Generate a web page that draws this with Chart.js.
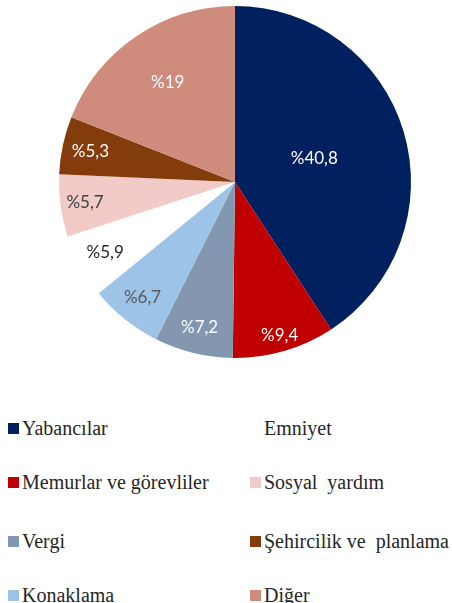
<!DOCTYPE html>
<html>
<head>
<meta charset="utf-8">
<script src="https://cdn.jsdelivr.net/npm/chart.js@4"></script>
<style>
  html, body { margin: 0; padding: 0; background: #fff; }
  #wrap { position: relative; width: 452px; height: 603px; overflow: hidden; }
  #pie { position: absolute; left: 0; top: 0; }
  .leg { position: absolute; display: flex; align-items: center; white-space: pre;
         font-family: "Liberation Serif", serif; font-size: 20px; color: #262626; }
  .leg i { display: inline-block; width: 11px; height: 11px; margin-right: 3px; }
</style>
</head>
<body>
<div id="wrap">
  <canvas id="pie" width="452" height="370"></canvas>
</div>
<script>
// --- Data ---
const categories = ['Yabancılar', 'Memurlar ve görevliler', 'Vergi', 'Konaklama',
                    'Emniyet', 'Sosyal  yardım', 'Şehircilik ve  planlama', 'Diğer'];
const shares = [40.8, 9.4, 7.2, 6.7, 5.9, 5.7, 5.3, 19];
const valueLabels = ['%40,8', '%9,4', '%7,2', '%6,7', '%5,9', '%5,7', '%5,3', '%19'];

// --- Styles ---
const colors = ['#002060', '#C00000', '#8497B0', '#9DC3E6', '#FFFFFF', '#F2CAC7', '#843C0C', '#CF8C7C'];
const labelColors = ['#FFFFFF', '#FFFFFF', '#FFFFFF', '#595959', '#262626', '#404040', '#FFFFFF', '#FFFFFF'];
const labelRadius = [0.47, 0.91, 0.85, 0.84, 0.84, 0.86, 0.84, 0.68];

// legend is laid out in two columns, filled top to bottom
const legendCols = [8, 250];
const legendRows = [428, 482, 541, 595];

// --- Slice labels plugin ---
const sliceLabels = {
    id: 'sliceLabels',
    afterDatasetsDraw(chart) {
        const ctx = chart.ctx;
        const arcs = chart.getDatasetMeta(0).data;
        ctx.save();
        ctx.font = '17px Lato, sans-serif';
        ctx.textAlign = 'center';
        ctx.textBaseline = 'middle';
        arcs.forEach((arc, i) => {
            const mid = (arc.startAngle + arc.endAngle) / 2;
            const r = arc.outerRadius * labelRadius[i];
            ctx.fillStyle = labelColors[i];
            ctx.fillText(valueLabels[i], arc.x + Math.cos(mid) * r, arc.y + Math.sin(mid) * r);
        });
        ctx.restore();
    }
};

new Chart(document.getElementById('pie'), {
    type: 'pie',
    data: {
        labels: categories,
        datasets: [{
            data: shares,
            backgroundColor: colors,
            borderWidth: 0
        }]
    },
    options: {
        responsive: false,
        animation: false,
        layout: { padding: { left: 18, right: 0, top: 6, bottom: 12 } },
        plugins: { legend: { display: false }, tooltip: { enabled: false } }
    },
    plugins: [sliceLabels]
});

// --- Legend ---
const wrap = document.getElementById('wrap');
categories.forEach((name, i) => {
    const col = Math.floor(i / 4), row = i % 4;
    const item = document.createElement('div');
    item.className = 'leg';
    item.style.left = legendCols[col] + 'px';
    item.style.top = (legendRows[row] - 12) + 'px';
    item.style.height = '24px';
    item.innerHTML = `<i style="background:${colors[i]}"></i>${name}`;
    wrap.appendChild(item);
});
</script>
</body>
</html>
